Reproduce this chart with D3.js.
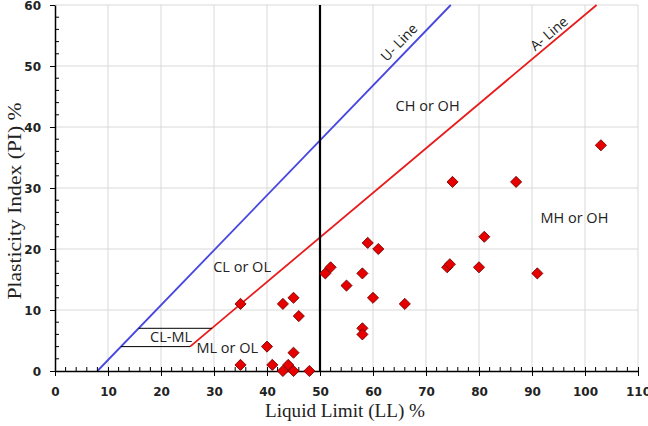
<!DOCTYPE html>
<html><head><meta charset="utf-8">
<script src="https://cdn.jsdelivr.net/npm/d3@7"></script>
<style>body{margin:0;background:#fff}svg{display:block}</style>
</head><body>
<svg id="c" width="648" height="426"></svg>
<script>
const liquidLimit = [35,43,45,46,40,45,35,41,44,43,45,48,51,52,55,58,59,61,60,66,58,58,103,75,87,81,74,74.5,80,91];
const plasticityIndex = [11,11,12,9,4,3,1,1,1,0,0,0,16,17,14,16,21,20,12,11,7,6,37,31,31,22,17,17.5,17,16];
const xTicks = [0,10,20,30,40,50,60,70,80,90,100,110];
const yTicks = [0,10,20,30,40,50,60];
const uLine = [[8,0],[74.67,60]];
const aLine = [[25.48,4],[102.19,60]];
const clmlLines = [[[12.44,4],[25.48,4]],[[15.78,7],[29.59,7]]];
const divider = [[50,0],[50,60]];
const regionLabels = [
  {text:"CH or OH", x:70.3, y:42.6},
  {text:"MH or OH", x:98, y:24.3},
  {text:"CL or OL", x:35.3, y:16.3},
  {text:"CL-ML", x:21.9, y:4.8},
  {text:"ML or OL", x:32.5, y:2.9}
];

const svg = d3.select("#c");
const L=55, R=638, T=5, B=371;
const x = d3.scaleLinear().domain([0,110]).range([L,R]);
const y = d3.scaleLinear().domain([0,60]).range([B,T]);

// grid
const g = svg.append("g");
g.selectAll(".vg").data(xTicks.slice(1)).join("line")
  .attr("x1",d=>x(d)).attr("x2",d=>x(d)).attr("y1",y(0)).attr("y2",y(60))
  .attr("stroke","#d9d9d9").attr("stroke-width",1);
g.selectAll(".hg").data(yTicks.slice(1)).join("line")
  .attr("x1",x(0)).attr("x2",x(110)).attr("y1",d=>y(d)).attr("y2",d=>y(d))
  .attr("stroke","#d9d9d9").attr("stroke-width",1);

const line = d3.line().x(d=>x(d[0])).y(d=>y(d[1]));
// U and A lines
svg.append("path").attr("d",line(uLine)).attr("stroke","#4646e0").attr("stroke-width",1.8).attr("fill","none");
svg.append("path").attr("d",line(aLine)).attr("stroke","#e81c1c").attr("stroke-width",1.8).attr("fill","none");
clmlLines.forEach(l=>svg.append("path").attr("d",line(l)).attr("stroke","#000").attr("stroke-width",1).attr("fill","none"));
svg.append("path").attr("d",line(divider)).attr("stroke","#000").attr("stroke-width",2.2).attr("fill","none");

// axes
const xAxis = d3.axisBottom(x).tickValues(xTicks).tickSize(0).tickFormat(d3.format("d"));
const yAxis = d3.axisLeft(y).tickValues(yTicks).tickSize(0).tickFormat(d3.format("d"));
const xg = svg.append("g").attr("transform",`translate(0,${B})`).call(xAxis);
const yg = svg.append("g").attr("transform",`translate(${L},0)`).call(yAxis);
[xg,yg].forEach(a=>{a.select(".domain").attr("stroke","#000").attr("stroke-width",1.5);
  a.selectAll("text").attr("font-family","DejaVu Sans").attr("font-weight","bold").attr("font-size",12).attr("fill","#222");});
xg.selectAll("text").attr("dy",null).attr("y",25);
yg.selectAll("text").attr("x",-14).attr("dy","0.35em");
// major ticks
xg.selectAll(".tick").append("line").attr("y1",-4).attr("y2",5).attr("stroke","#000");
yg.selectAll(".tick").append("line").attr("x1",-5).attr("x2",0).attr("stroke","#000");
// minor ticks
const xMinor = d3.range(0,111,2).filter(v=>v%10!==0);
const yMinor = d3.range(0,61,2).filter(v=>v%10!==0);
svg.append("g").selectAll("line").data(xMinor).join("line")
  .attr("x1",d=>x(d)).attr("x2",d=>x(d)).attr("y1",B-4).attr("y2",B).attr("stroke","#000");
svg.append("g").selectAll("line").data(yMinor).join("line")
  .attr("x1",L).attr("x2",L+4).attr("y1",d=>y(d)).attr("y2",d=>y(d)).attr("stroke","#000");

// labels
svg.append("g").selectAll("text").data(regionLabels).join("text")
  .attr("x",d=>x(d.x)).attr("y",d=>y(d.y)).attr("text-anchor","middle")
  .attr("font-family","Open Sans").attr("font-size",14.5).attr("fill","#222").text(d=>d.text);
const uAng = -Math.atan((y(0)-y(0.9))/(x(1)-x(0)))*180/Math.PI;
const aAng = -Math.atan((y(0)-y(0.73))/(x(1)-x(0)))*180/Math.PI;
svg.append("text").attr("transform",`translate(${x(65.6)},${y(53.3)}) rotate(${uAng})`)
  .attr("text-anchor","middle").attr("font-family","Open Sans").attr("font-size",14).attr("fill","#222").text("U- Line");
svg.append("text").attr("transform",`translate(${x(93.8)},${y(54.7)}) rotate(${aAng})`)
  .attr("text-anchor","middle").attr("font-family","Open Sans").attr("font-size",14).attr("fill","#222").text("A- Line");

// points
const pts = liquidLimit.map((v,i)=>[v,plasticityIndex[i]]);
svg.append("g").selectAll("path").data(pts).join("path")
  .attr("d",d3.symbol().type(d3.symbolSquare).size(62))
  .attr("transform",d=>`translate(${x(d[0])},${y(d[1])}) rotate(45)`)
  .attr("fill","#e60000").attr("stroke","#6b0000").attr("stroke-width",0.8);

// axis titles
svg.append("text").attr("x",345).attr("y",417).attr("text-anchor","middle")
  .attr("font-family","Liberation Serif").attr("font-size",18).attr("fill","#222")
  .attr("textLength",160).attr("lengthAdjust","spacingAndGlyphs").text("Liquid Limit (LL) %");
svg.append("text").attr("transform","translate(21,201) rotate(-90)").attr("text-anchor","middle")
  .attr("font-family","Liberation Serif").attr("font-size",19).attr("fill","#222")
  .attr("textLength",197).attr("lengthAdjust","spacingAndGlyphs").text("Plasticity Index (PI) %");
</script>
</body></html>
